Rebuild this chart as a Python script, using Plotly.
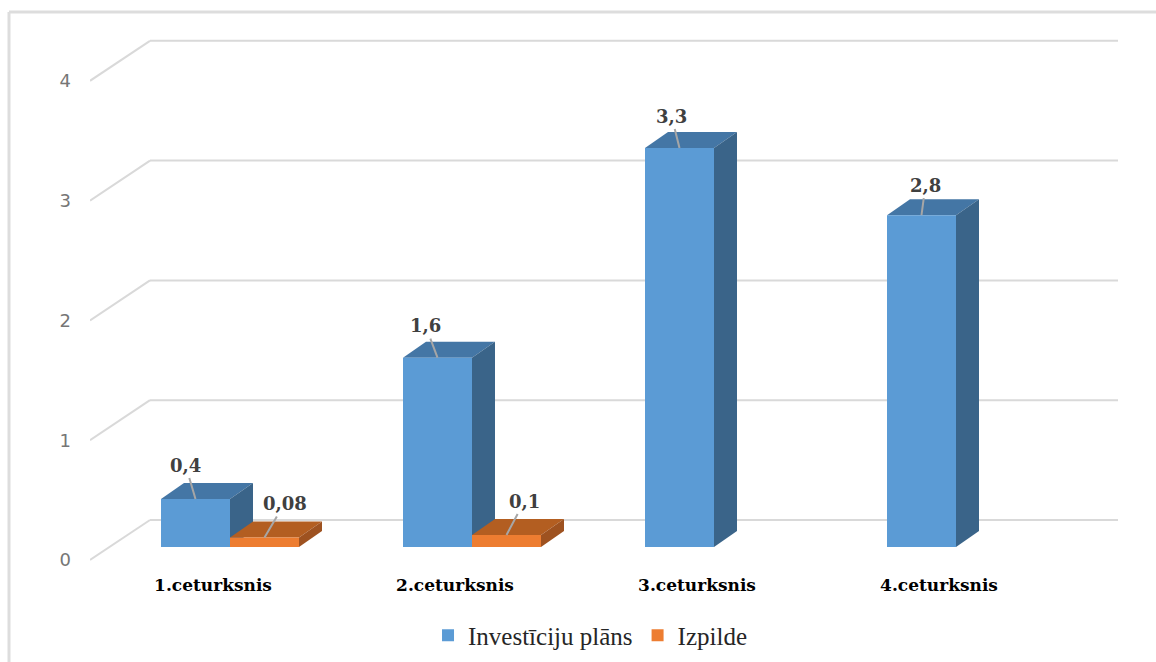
import plotly.graph_objects as go

categories = ["1.ceturksnis", "2.ceturksnis", "3.ceturksnis", "4.ceturksnis"]
plan_values = [0.4, 1.58, 3.33, 2.77]
plan_labels = ["0,4", "1,6", "3,3", "2,8"]
done_values = [0.08, 0.1, None, None]
done_labels = ["0,08", "0,1", None, None]
y_ticks = [0, 1, 2, 3, 4]

# label offsets from the bar's top front centre, in pixels
plan_offsets = [(-10, -34), (-12, -32), (-8, -32), (4, -30)]
done_offsets = [(20, -34), (18, -34), None, None]

BLUE, BLUE_TOP, BLUE_SIDE = "#5B9BD5", "#4476A5", "#3A6489"
ORANGE, ORANGE_TOP, ORANGE_SIDE = "#ED7D31", "#B35E21", "#9E5220"
GRID = "#D9D9D9"

# plot area in the window
L, R, T, B = 90, 1118, 30, 572
W, H = 1156, 662
PX_X = 242.0
PX_Y = 119.8
BAR_W = 69 / PX_X
DX, DY = 23 / PX_X, 16 / PX_Y          # bar depth
FLOOR = 13 / PX_Y                      # front floor edge below the bar plane
WALL = 27 / PX_Y                       # back wall above the bar plane
WALL_DX = 60 / PX_X

x_range = [(L - 230) / PX_X, (R - 230) / PX_X]
y_range = [(547 - B) / PX_Y, (547 - T) / PX_Y]
xs = list(range(len(categories)))


def path(points):
    return "M" + " L".join(f"{a:.5f},{b:.5f}" for a, b in points) + " Z"


shapes = []
# frame of the picture
for x0, y0, x1, y1 in [(9, 12, W, 12), (9, 12, 9, H)]:
    shapes.append(dict(type="line", xref="paper", yref="paper",
                       x0=(x0 - L) / (R - L), x1=(x1 - L) / (R - L),
                       y0=(B - y0) / (B - T), y1=(B - y1) / (B - T),
                       line=dict(color="#DDDDDD", width=3)))
# walls: floor edge up to back wall, then along the back wall
for v in y_ticks:
    yf, yb = v - FLOOR, v + WALL
    shapes.append(dict(type="line", xref="x", yref="y", layer="below",
                       x0=x_range[0], x1=x_range[0] + WALL_DX, y0=yf, y1=yb,
                       line=dict(color=GRID, width=2)))
    shapes.append(dict(type="line", xref="x", yref="y", layer="below",
                       x0=x_range[0] + WALL_DX, x1=x_range[1], y0=yb, y1=yb,
                       line=dict(color=GRID, width=2)))


def faces(values, shift, top_col, side_col):
    for p, v in zip(xs, values):
        if v is None:
            continue
        x0, x1 = p + shift, p + shift + BAR_W
        top = [(x0, v), (x1, v), (x1 + DX, v + DY), (x0 + DX, v + DY)]
        side = [(x1, 0), (x1 + DX, DY), (x1 + DX, v + DY), (x1, v)]
        shapes.append(dict(type="path", xref="x", yref="y", layer="below",
                           path=path(top), fillcolor=top_col, line_width=0))
        shapes.append(dict(type="path", xref="x", yref="y", layer="below",
                           path=path(side), fillcolor=side_col, line_width=0))


faces(plan_values, -BAR_W, BLUE_TOP, BLUE_SIDE)
faces(done_values, 0, ORANGE_TOP, ORANGE_SIDE)

fig = go.Figure()
fig.add_bar(x=xs, y=plan_values, name="Investīciju plāns", marker=dict(color=BLUE, line_width=0))
fig.add_bar(x=xs, y=done_values, name="Izpilde", marker=dict(color=ORANGE, line_width=0))

annotations = []


def labels(values, texts, offsets, shift):
    for p, v, t, o in zip(xs, values, texts, offsets):
        if v is None:
            continue
        annotations.append(dict(
            x=p + shift, y=v, xref="x", yref="y", text=f"<b>{t}</b>",
            showarrow=True, arrowhead=0, arrowwidth=2, arrowcolor="#A6A6A6",
            ax=o[0], ay=o[1], axref="pixel", ayref="pixel", borderpad=2,
            font=dict(family="DejaVu Serif", size=18, color="#404040"),
        ))


labels(plan_values, plan_labels, plan_offsets, -BAR_W / 2)
labels(done_values, done_labels, done_offsets, BAR_W / 2)

fig.update_layout(
    width=W, height=H, autosize=False,
    margin=dict(l=L, r=W - R, t=T, b=H - B, pad=0, autoexpand=False),
    paper_bgcolor="white", plot_bgcolor="white",
    barmode="group", bargap=1 - 2 * BAR_W, bargroupgap=0,
    shapes=shapes, annotations=annotations,
    showlegend=True,
    legend=dict(orientation="h", x=0.4864, xanchor="center", y=-0.117, yanchor="middle",
                font=dict(family="Liberation Serif", size=25, color="#262626"),
                itemwidth=30, bgcolor="rgba(0,0,0,0)"),
    xaxis=dict(range=x_range, tickmode="array", tickvals=[p - 17 / PX_X for p in xs],
               ticktext=categories, showgrid=False, zeroline=False, showline=False,
               ticks="", ticklabelstandoff=1, automargin=False,
               tickfont=dict(family="DejaVu Serif", size=17, color="#000000", weight="bold")),
    yaxis=dict(range=y_range, tickmode="array", tickvals=[v - FLOOR for v in y_ticks],
               ticktext=[str(v) for v in y_ticks], showgrid=False, zeroline=False,
               showline=False, ticks="", ticklabelstandoff=18, automargin=False,
               tickfont=dict(family="DejaVu Sans", size=18, color="#767676")),
)

fig.write_html("out.html", config={"displayModeBar": False},
               post_script="document.body.style.margin='0';")
